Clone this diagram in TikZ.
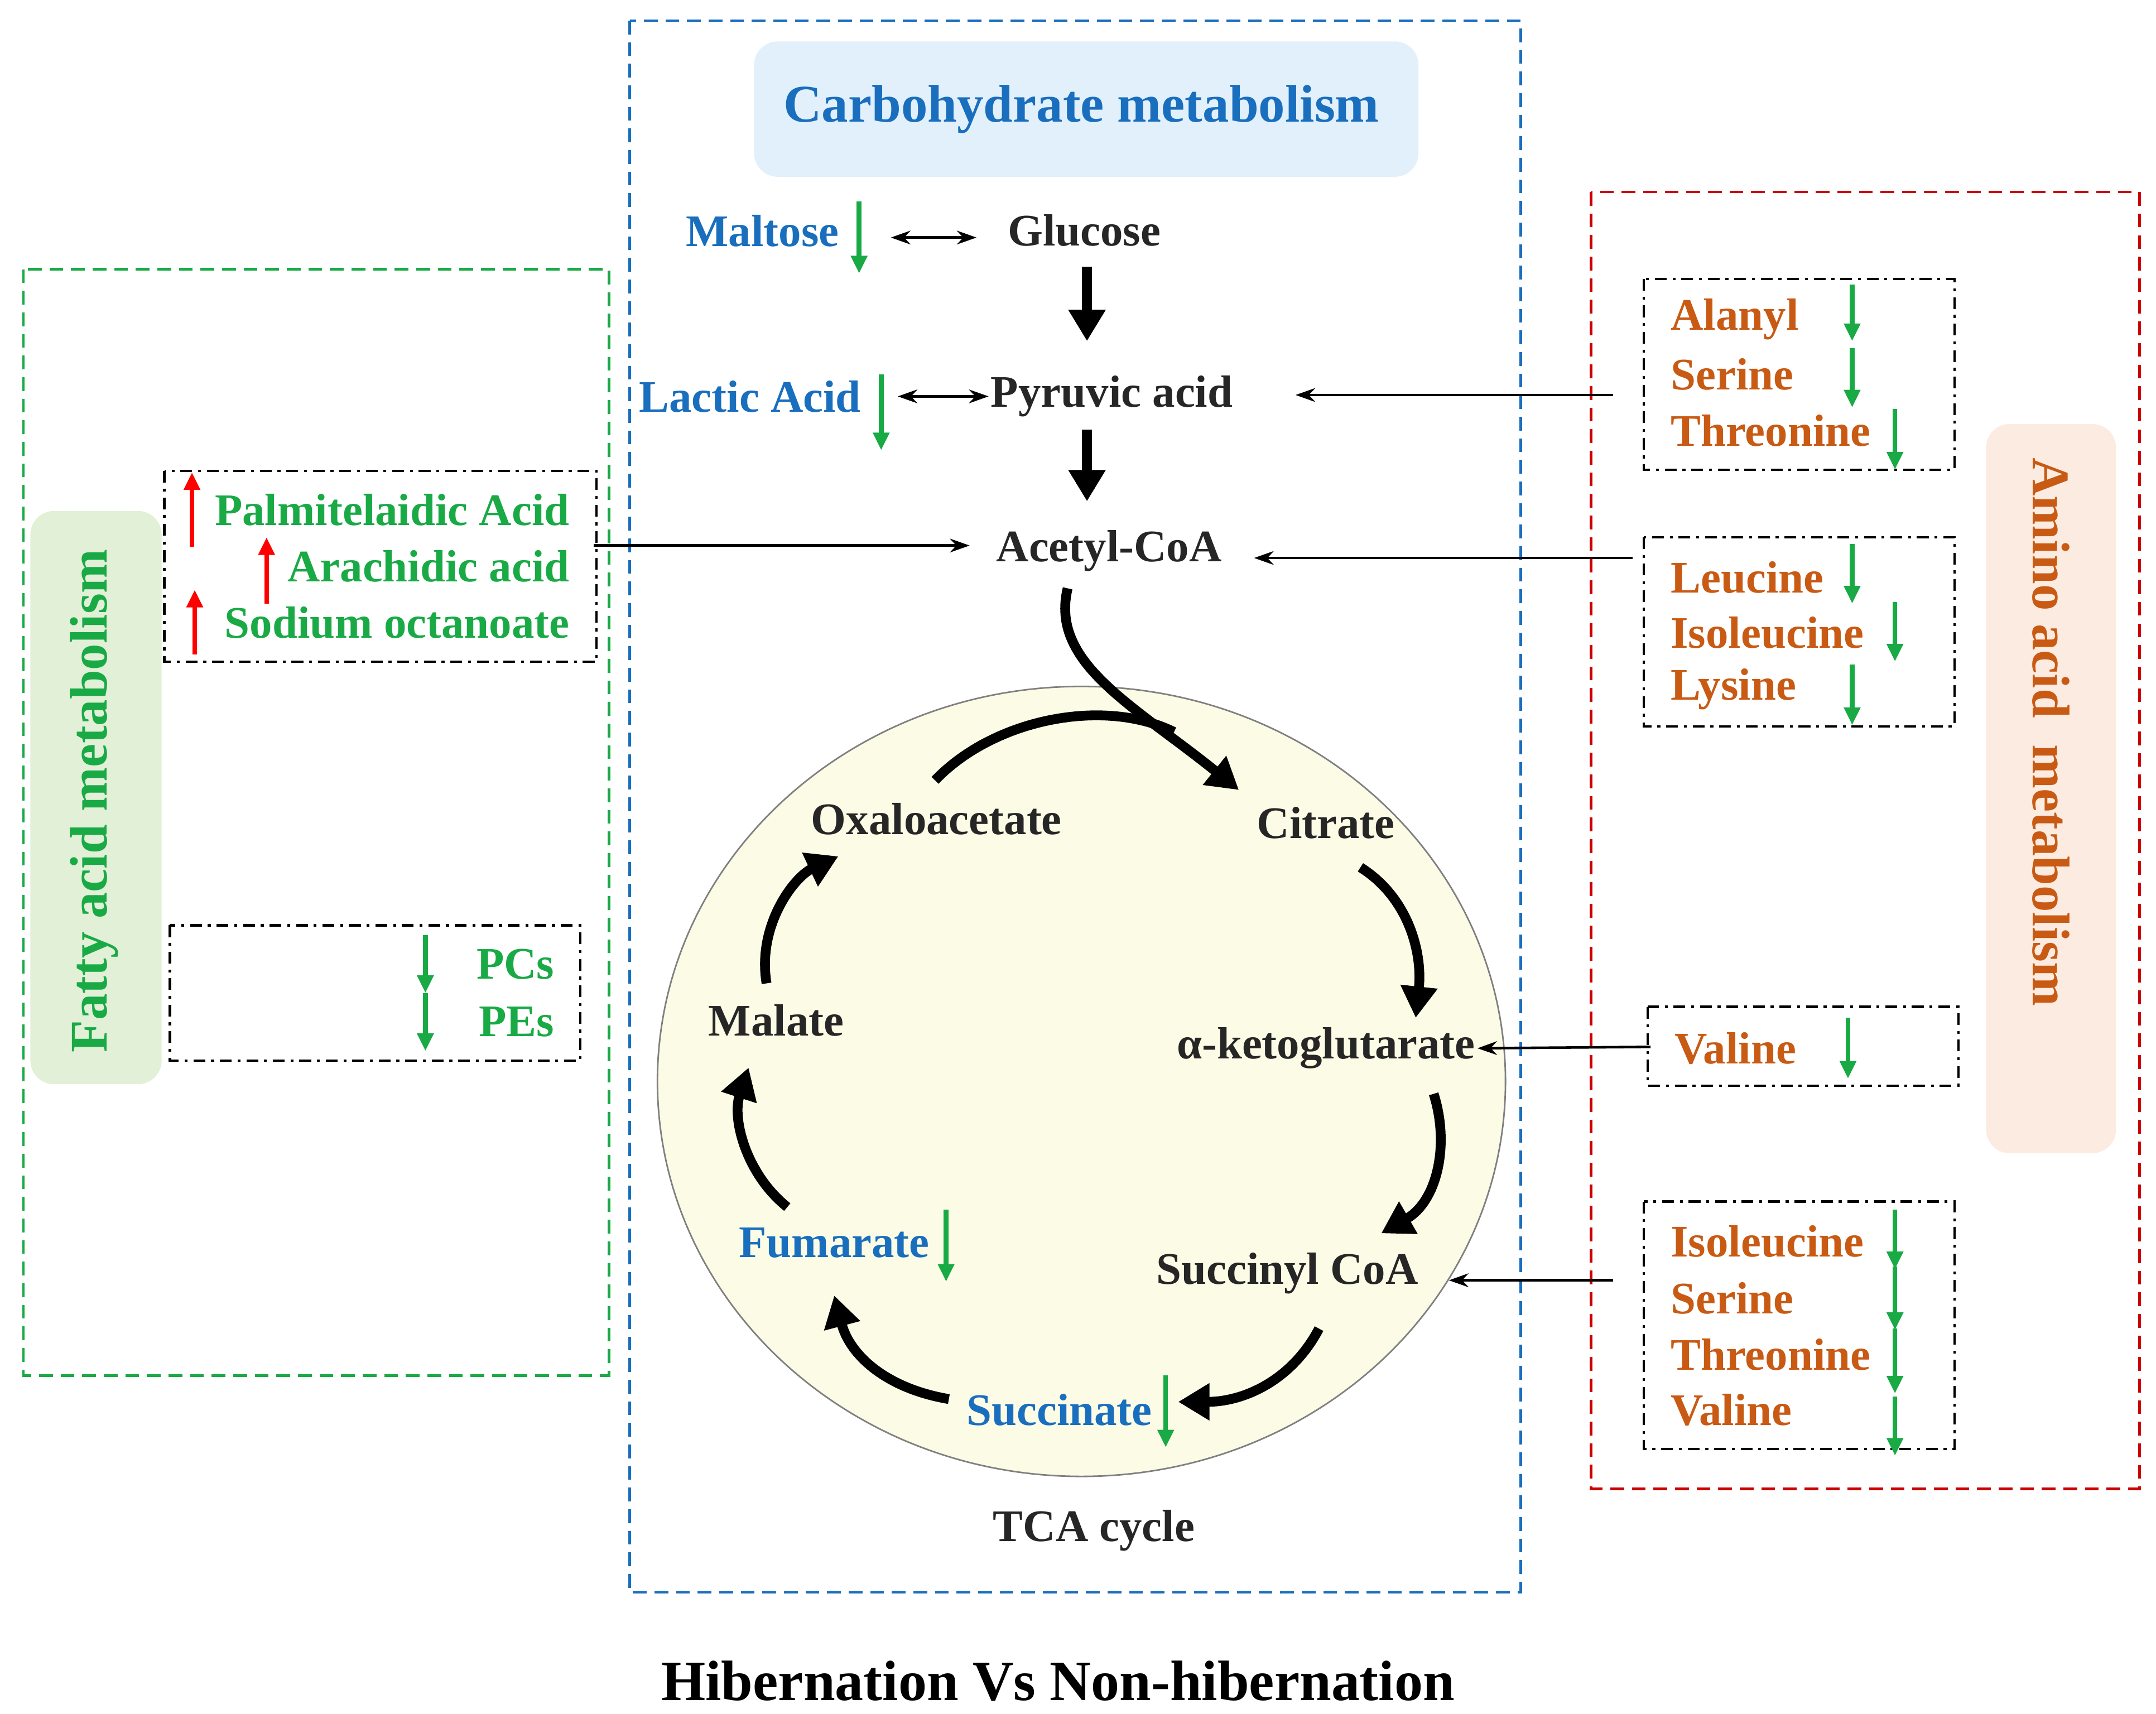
\documentclass[tikz,border=0pt]{standalone}
\usepackage{fontspec}
\setmainfont{Liberation Serif}
\usetikzlibrary{arrows.meta}
\definecolor{cblue}{RGB}{25,110,190}
\definecolor{cgreen}{RGB}{25,170,70}
\definecolor{corange}{RGB}{200,90,20}
\definecolor{lblue}{RGB}{225,240,250}
\definecolor{lgreen}{RGB}{225,240,215}
\definecolor{lpeach}{RGB}{252,235,225}
\definecolor{lyellow}{RGB}{252,252,230}
\begin{document}
\begin{tikzpicture}[x=0.02475cm,y=-0.02475cm,
 lab/.style={font=\fontsize{23}{25}\selectfont\bfseries,text=black!85,inner sep=1pt},
 blab/.style={lab,text=cblue},
 olab/.style={lab,text=corange,anchor=west},
 glab/.style={lab,text=cgreen,anchor=east},
 dd/.style={dash pattern=on 6pt off 3pt on 1.5pt off 3pt,line width=1.2pt},
 frame/.style={dash pattern=on 7pt off 4pt,line width=1.3pt},
 gar/.style={cgreen,line width=2.4pt,-{Triangle[length=9pt,width=8pt]}},
 rar/.style={red,line width=2.4pt,-{Triangle[length=9pt,width=8pt]}},
 thin/.style={line width=1.3pt,-{Stealth[length=10pt,width=7pt]}},
 thk/.style={line width=5pt,-{Triangle[length=16pt,width=18pt]}},
 cyc/.style={line width=5pt,-{Triangle[length=16pt,width=18pt]}}]
\useasboundingbox (0,0) rectangle (1561,1241);
% frames
\draw[cblue,frame] (456,15) rectangle (1101,1153);
\draw[cgreen,frame] (17,195) rectangle (441,996);
\draw[red!80!black,frame] (1152,139) rectangle (1549,1078);
\fill[lblue,rounded corners=12] (546,30) rectangle (1027,128);
\node[font=\fontsize{27}{29}\selectfont\bfseries,text=cblue] (carb) at (783,79) {Carbohydrate metabolism};
\fill[lgreen,rounded corners=12] (22,370) rectangle (117,785);
\node[font=\fontsize{27}{29}\selectfont\bfseries,text=cgreen,rotate=90] (fam) at (68,580) {Fatty acid metabolism};
\fill[lpeach,rounded corners=12] (1438,307) rectangle (1532,835);
\node[font=\fontsize{27}{29}\selectfont\bfseries,text=corange,rotate=-90] (aam) at (1485,530) {Amino acid\ \ metabolism};
% dash-dot boxes
\draw[dd] (1190,202) rectangle (1415,340);
\draw[dd] (1190,389) rectangle (1415,526);
\draw[dd] (1193,729) rectangle (1418,786);
\draw[dd] (1190,870) rectangle (1415,1049);
\draw[dd] (119,341) rectangle (432,479);
\draw[dd] (123,670) rectangle (420,768);
\coordinate (b1) at (1168,286); \coordinate (b2) at (1182,404);
\coordinate (b3) at (1195,758); \coordinate (b4) at (1168,927);
\coordinate (fb) at (430,395);
% circle
\draw[fill=lyellow,draw=gray,line width=0.8pt] (783,783) ellipse [x radius=307,y radius=286];
% labels
\node[blab] (malt) at (552,167) {Maltose};
\node[lab] (glu) at (785,167) {Glucose};
\node[blab] (lac) at (543,287) {Lactic Acid};
\node[lab] (pyr) at (805,287) {Pyruvic acid};
\node[lab] (acc) at (803,399) {Acetyl-CoA};
\node[lab] (oxa) at (678,593) {Oxaloacetate};
\node[lab] (cit) at (960,596) {Citrate};
\node[lab] (mal) at (562,739) {Malate};
\node[lab] (akg) at (960,759) {α-ketoglutarate};
\node[blab] (fum) at (604,900) {Fumarate};
\node[lab] (suc) at (932,922) {Succinyl CoA};
\node[blab] (succ) at (767,1021) {Succinate};
\node[lab] (tca) at (792,1108) {TCA cycle};
\node[font=\fontsize{29}{31}\selectfont\bfseries] (title) at (766,1217) {Hibernation Vs Non-hibernation};
% amino labels
\node[olab] (a1) at (1208,231) {Alanyl};
\node[olab] (a2) at (1208,271) {Serine};
\node[olab] (a3) at (1208,312) {Threonine};
\node[olab] (a4) at (1208,418) {Leucine};
\node[olab] (a5) at (1208,458) {Isoleucine};
\node[olab] (a6) at (1208,499) {Lysine};
\node[olab] (a7) at (1211,759) {Valine};
\node[olab] (a8) at (1208,899) {Isoleucine};
\node[olab] (a9) at (1208,940) {Serine};
\node[olab] (a10) at (1208,981) {Threonine};
\node[olab] (a11) at (1208,1021) {Valine};
% fatty labels
\node[glab] (f1) at (414,369) {Palmitelaidic Acid};
\node[glab] (f2) at (414,410) {Arachidic acid};
\node[glab] (f3) at (414,451) {Sodium octanoate};
\node[glab] (f4) at (403,698) {PCs};
\node[glab] (f5) at (403,740) {PEs};
% small arrows
\draw[gar] (622,146) -- (622,198);
\draw[gar] (638,271) -- (638,326);
\draw[gar] (685,876) -- (685,928);
\draw[gar] (844,996) -- (844,1048);
\foreach \x/\a/\b in {1341/206/247,1341/252/295,1372/296/340,1341/394/437,1372/436/479,1341/481/525,1338/737/781,1372/876/919,1372/917/963,1372/962/1009,1372/1011/1054}
  \draw[gar] (\x,\a) -- (\x,\b);
\draw[gar] (308,677) -- (308,719);
\draw[gar] (308,719) -- (308,761);
\draw[rar] (139,396) -- (139,342);
\draw[rar] (193,437) -- (193,389);
\draw[rar] (141,474) -- (141,427);
% connectors
\draw[line width=1.3pt,{Stealth[length=10pt,width=7pt]}-{Stealth[length=10pt,width=7pt]}] (645,172) -- (707,172);
\draw[line width=1.3pt,{Stealth[length=10pt,width=7pt]}-{Stealth[length=10pt,width=7pt]}] (650,287) -- (pyr.west);
\draw[thk] (787,193) -- (787,247);
\draw[thk] (787,311) -- (787,363);
\draw[thin] (b1) -- (938,286);
\draw[thin] (b2) -- (908,404);
\draw[thin] (fb) -- (702,395);
\draw[thin] (b3) -- (akg.east);
\draw[thin] (b4) -- (1049,927);
% cycle
\draw[cyc] (773,426) .. controls (760,480) and (820,510) .. (897,572);
\draw[line width=5pt] (677,565) .. controls (720,520) and (800,505) .. (850,530);
\draw[cyc] (985,628) .. controls (1020,650) and (1030,690) .. (1025,737);
\draw[cyc] (1038,792) .. controls (1050,830) and (1040,870) .. (1000,893);
\draw[cyc] (955,962) .. controls (935,1000) and (900,1015) .. (853,1015);
\draw[cyc] (687,1013) .. controls (640,1005) and (615,980) .. (604,938);
\draw[cyc] (570,874) .. controls (540,850) and (530,810) .. (542,773);
\draw[cyc] (555,712) .. controls (548,670) and (575,635) .. (607,620);
\end{tikzpicture}
\end{document}
